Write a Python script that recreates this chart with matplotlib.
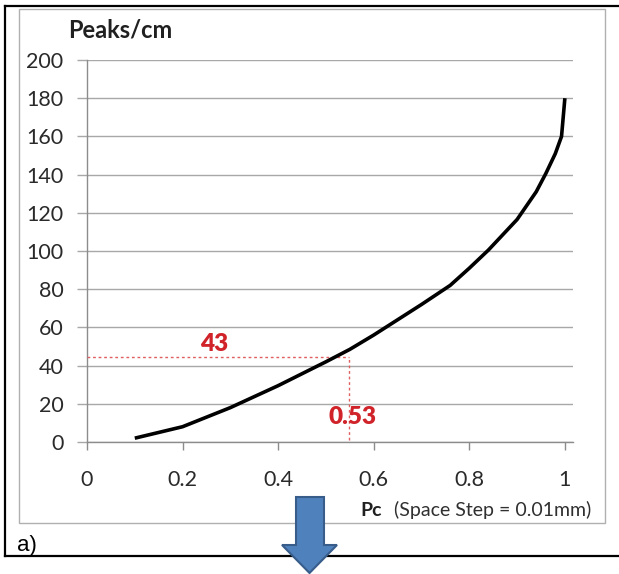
import matplotlib
matplotlib.use("Agg")
import matplotlib.pyplot as plt
from matplotlib.lines import Line2D
from matplotlib.patches import Rectangle, Polygon

# -------------------------------
# Data
# -------------------------------
pc = [0.10, 0.20, 0.30, 0.40, 0.50, 0.55, 0.60, 0.70, 0.76, 0.80,
      0.84, 0.90, 0.94, 0.96, 0.98, 0.993, 1.00]
peaks = [2, 8, 18, 29.5, 42, 48.5, 56, 72, 82, 91,
         100.5, 116.5, 131, 140.5, 151, 160, 180]

x_ticks = [0, 0.2, 0.4, 0.6, 0.8, 1]
x_tick_labels = ["0", "0.2", "0.4", "0.6", "0.8", "1"]
y_ticks = [0, 20, 40, 60, 80, 100, 120, 140, 160, 180, 200]

mark_x = 0.549
mark_y = 44.3
mark_x_label = "0.53"
mark_y_label = "43"

W, H = 619, 574
FONT = "Lato"
RED = "#d0232a"


def px(x, y):
    # pixel position -> figure fraction
    return x / W, 1 - y / H


fig = plt.figure(figsize=(W / 100, H / 100), dpi=100)

# -------------------------------
# Frames around the chart
# -------------------------------
fig.add_artist(Rectangle(px(19, 523), (605 - 19) / W, (523 - 9) / H,
                         transform=fig.transFigure, fill=False,
                         edgecolor="#b0b0b0", linewidth=1.0))
for (x0, y0), (x1, y1) in [((5, 6), (5, 556)), ((5, 6), (619, 6)),
                           ((5, 556), (619, 556))]:
    a, b = px(x0, y0)
    c, d = px(x1, y1)
    fig.add_artist(Line2D([a, c], [b, d], transform=fig.transFigure,
                          color="black", linewidth=1.6))

# -------------------------------
# Axes
# -------------------------------
left, bottom = px(87, 442)
ax = fig.add_axes([left, bottom, (573 - 87) / W, (442 - 60) / H])
ax.set_xlim(0, 1.017)
ax.set_ylim(0, 200)

ax.plot(pc, peaks, color="black", linewidth=2.6, solid_capstyle="butt", zorder=4)

# dashed guides
ax.plot([0, mark_x], [mark_y, mark_y], color="#e06060", linestyle=(0, (2, 2)),
        linewidth=1.0, zorder=3)
ax.plot([mark_x, mark_x], [1, mark_y], color="#e06060", linestyle=(0, (2, 2)),
        linewidth=1.0, zorder=3)
ax.text(0.266, 51.3, mark_y_label, color=RED, fontsize=17.5,
        fontweight="heavy", family=FONT, ha="center", va="center")
ax.text(0.555, 13, mark_x_label, color=RED, fontsize=17.5,
        fontweight="heavy", family=FONT, ha="center", va="center")

ax.set_xticks(x_ticks)
ax.set_xticklabels(x_tick_labels)
ax.set_yticks(y_ticks)
ax.grid(axis="y", color="#a8a8a8", linewidth=1.0)
ax.set_axisbelow(True)

for side in ["top", "right"]:
    ax.spines[side].set_visible(False)
for side in ["left", "bottom"]:
    ax.spines[side].set_color("#8c8c8c")
    ax.spines[side].set_linewidth(1.0)

ax.tick_params(axis="y", length=7, width=1.0, color="#a8a8a8", pad=10)
ax.tick_params(axis="x", length=6, width=1.0, color="#8c8c8c", pad=14)
for lab in ax.get_xticklabels() + ax.get_yticklabels():
    lab.set_fontfamily(FONT)
    lab.set_fontsize(15.5)
    lab.set_color("#2a2a2a")

# -------------------------------
# Axis titles
# -------------------------------
fig.text(*px(68, 30), "Peaks/cm", fontsize=17, fontweight="bold",
         family=FONT, ha="left", va="center", color="#202020")
fig.text(*px(360, 510), "Pc", fontsize=14, fontweight="bold",
         family=FONT, ha="left", va="center", color="#202020")
fig.text(*px(394, 510), "(Space Step = 0.01mm)", fontsize=14,
         family=FONT, ha="left", va="center", color="#303030")

fig.text(*px(17, 545), "a)", fontsize=16, family="Liberation Sans",
         ha="left", va="center", color="black")

# -------------------------------
# Blue arrow under the chart
# -------------------------------
arrow_pts = [(296, 497), (324, 497), (324, 545), (337, 545),
             (309.5, 573), (282, 545), (296, 545)]
fig.add_artist(Polygon([px(x, y) for x, y in arrow_pts], closed=True,
                       transform=fig.transFigure, facecolor="#4f81bd",
                       edgecolor="#385d8a", linewidth=1.5, zorder=5))

fig.savefig("out.png", dpi=100)
